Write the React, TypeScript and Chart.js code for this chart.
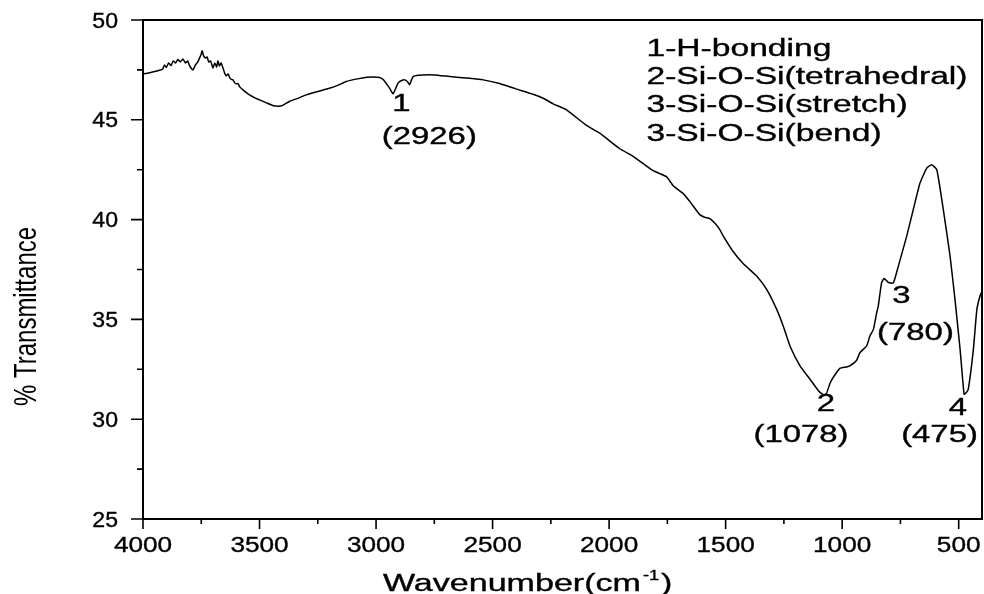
import React, { useEffect, useRef } from "react";
import { Chart, registerables } from "chart.js";

Chart.register(...registerables);

const wavenumbers = [
  4000, 3975, 3950, 3930, 3915, 3908, 3900, 3890, 3880, 3870, 3860, 3850, 3840, 3829, 3818, 3808, 3800, 3786,
  3775, 3765, 3757, 3750, 3746, 3740, 3732, 3725, 3718, 3710, 3700, 3692, 3684, 3679, 3672, 3665, 3657, 3650,
  3643, 3635, 3625, 3614, 3606, 3600, 3592, 3585, 3571, 3555, 3543, 3520, 3500, 3470, 3443, 3420, 3405, 3390,
  3370, 3330, 3300, 3250, 3200, 3160, 3128, 3080, 3040, 3010, 2985, 2968, 2955, 2940, 2927, 2915, 2905, 2890,
  2877, 2866, 2856, 2848, 2840, 2820, 2800, 2750, 2684, 2600, 2540, 2470, 2400, 2326, 2283, 2240, 2183, 2097,
  2040, 1954, 1897, 1811, 1754, 1725, 1682, 1650, 1611, 1590, 1568, 1545, 1525, 1510, 1468, 1425, 1367, 1324,
  1281, 1253, 1224, 1181, 1138, 1100, 1078, 1067, 1052, 1038, 1010, 981, 967, 938, 924, 895, 881, 866, 852, 845,
  831, 820, 810, 802, 781, 770, 759, 723, 695, 666, 637, 616, 594, 566, 537, 516, 494, 477, 470, 459, 437, 422,
  408, 400,
];

const transmittance = [
  47.3, 47.35, 47.42, 47.48, 47.55, 47.75, 47.62, 47.85, 47.72, 47.95, 47.85, 48.02, 47.9, 48.05, 47.85, 47.95, 47.7, 47.5,
  47.75, 47.9, 48.1, 48.3, 48.45, 48.2, 48.1, 48.15, 47.9, 47.95, 47.6, 47.85, 47.65, 47.95, 47.7, 47.85, 47.6, 47.35,
  47.2, 47.3, 47.05, 47.0, 46.85, 46.8, 46.82, 46.65, 46.5, 46.35, 46.25, 46.1, 46.0, 45.85, 45.72, 45.68, 45.7, 45.8,
  45.93, 46.1, 46.25, 46.42, 46.58, 46.75, 46.92, 47.05, 47.13, 47.15, 47.12, 47.0, 46.8, 46.55, 46.3, 46.6, 46.85, 46.97,
  47.0, 46.92, 46.75, 47.0, 47.17, 47.23, 47.25, 47.25, 47.17, 47.08, 47.0, 46.82, 46.55, 46.28, 46.08, 45.8, 45.5, 44.72,
  44.33, 43.55, 43.17, 42.45, 42.15, 41.7, 41.3, 40.85, 40.25, 40.12, 40.05, 39.8, 39.5, 39.17, 38.4, 37.8, 37.17, 36.5,
  35.5, 34.67, 33.67, 32.67, 32.0, 31.4, 31.2, 31.3, 31.8, 32.1, 32.55, 32.62, 32.67, 32.95, 33.33, 33.67, 34.17, 34.5, 35.33, 35.67,
  36.83, 37.05, 36.95, 36.85, 36.82, 37.2, 37.67, 39.17, 40.5, 41.83, 42.58, 42.75, 42.5, 40.5, 38.17, 36.0, 33.5, 31.25, 31.3, 31.5, 33.5, 35.5,
  36.2, 36.4,
];

const xTickValues = [4000, 3500, 3000, 2500, 2000, 1500, 1000, 500];
const yTickValues = [25, 30, 35, 40, 45, 50];

const peakNumbers = ["1", "2", "3", "4"];
const peakWavenumbers = [2926, 1078, 780, 475];

const legendLines = [
  "1-H-bonding",
  "2-Si-O-Si(tetrahedral)",
  "3-Si-O-Si(stretch)",
  "3-Si-O-Si(bend)",
];

const xTitle = "Wavenumber(cm";
const xTitleSup = "-1";
const yTitle = "% Transmittance";

const FONT = '"Liberation Sans", Arial, sans-serif';

// pixel offsets for the peak labels: [dxNumber, yNumberBaseline, dxValue, yValueBaseline]
const peakLabelLayout = [
  [8, 111, 36, 144],
  [2, 411, -23, 442],
  [8, 303, 22, 340],
  [-6.5, 415, -25, 442],
];

function drawText(
  ctx: CanvasRenderingContext2D,
  s: string,
  x: number,
  y: number,
  size: number,
  sx: number,
  align: CanvasTextAlign
) {
  ctx.save();
  ctx.font = `${size}px ${FONT}`;
  ctx.textBaseline = "alphabetic";
  ctx.textAlign = align;
  ctx.fillStyle = "#000";
  ctx.strokeStyle = "#000";
  ctx.lineWidth = 0.35;
  ctx.translate(x, y);
  ctx.scale(sx, 1);
  ctx.fillText(s, 0, 0);
  ctx.strokeText(s, 0, 0);
  ctx.restore();
}

const framePlugin = {
  id: "frameAndText",
  afterDraw(chart: any) {
    const ctx: CanvasRenderingContext2D = chart.ctx;
    const xs = chart.scales.x;
    const ys = chart.scales.y;
    const { left, right, top, bottom } = chart.chartArea;
    ctx.save();
    ctx.strokeStyle = "#000";
    ctx.lineWidth = 2;
    ctx.beginPath();
    ctx.moveTo(left, top);
    ctx.lineTo(right, top);
    ctx.lineTo(right, bottom);
    ctx.lineTo(left, bottom);
    ctx.closePath();
    ctx.stroke();

    // ticks
    ctx.lineWidth = 1.6;
    ctx.beginPath();
    xTickValues.forEach((v, i) => {
      const px = xs.getPixelForValue(v);
      ctx.moveTo(px, bottom);
      ctx.lineTo(px, bottom + 10);
      if (i < xTickValues.length - 1) {
        const m = xs.getPixelForValue((v + xTickValues[i + 1]) / 2);
        ctx.moveTo(m, bottom);
        ctx.lineTo(m, bottom + 5);
      }
    });
    yTickValues.forEach((v, i) => {
      const py = ys.getPixelForValue(v);
      ctx.moveTo(left, py);
      ctx.lineTo(left - 12, py);
      if (i < yTickValues.length - 1) {
        const m = ys.getPixelForValue((v + yTickValues[i + 1]) / 2);
        ctx.moveTo(left, m);
        ctx.lineTo(left - 6, m);
      }
    });
    ctx.stroke();
    ctx.restore();

    // tick labels
    xTickValues.forEach((v) => {
      drawText(ctx, String(v), xs.getPixelForValue(v), bottom + 33, 22, 1.19, "center");
    });
    yTickValues.forEach((v) => {
      drawText(ctx, String(v), left - 25, ys.getPixelForValue(v) + 7.5, 22, 1.05, "right");
    });

    // axis titles
    ctx.save();
    ctx.font = `23px ${FONT}`;
    const sx = 1.48;
    const startX = 383;
    const baseY = 591;
    const w1 = ctx.measureText(xTitle).width * sx;
    ctx.restore();
    drawText(ctx, xTitle, startX, baseY, 23, sx, "left");
    ctx.save();
    ctx.font = `14px ${FONT}`;
    const w2 = ctx.measureText(xTitleSup).width * 1.3;
    ctx.restore();
    drawText(ctx, xTitleSup, startX + w1 + 2, baseY - 11, 14, 1.3, "left");
    drawText(ctx, ")", startX + w1 + w2 + 4, baseY, 23, sx, "left");

    ctx.save();
    ctx.font = `24px ${FONT}`;
    ctx.fillStyle = "#000";
    ctx.textAlign = "center";
    ctx.textBaseline = "alphabetic";
    ctx.translate(35.5, 316.5);
    ctx.rotate(-Math.PI / 2);
    ctx.scale(1, 1.3);
    ctx.fillText(yTitle, 0, 0);
    ctx.restore();

    // peak labels
    peakNumbers.forEach((n, i) => {
      const px = xs.getPixelForValue(peakWavenumbers[i]);
      const [dx1, y1, dx2, y2] = peakLabelLayout[i];
      drawText(ctx, n, px + dx1, y1, 23, 1.43, "center");
      drawText(ctx, `(${peakWavenumbers[i]})`, px + dx2, y2, 23, 1.43, "center");
    });

    // legend text block
    legendLines.forEach((s, i) => {
      drawText(ctx, s, 646.5, 56 + i * 28.2, 23, 1.46, "left");
    });
  },
};

export default function App() {
  const ref = useRef<HTMLCanvasElement | null>(null);
  useEffect(() => {
    if (!ref.current) return;
    const chart = new Chart(ref.current, {
      type: "line",
      data: {
        datasets: [
          {
            data: wavenumbers.map((w, i) => ({ x: w, y: transmittance[i] })),
            borderColor: "#000",
            borderWidth: 1.5,
            pointRadius: 0,
            tension: 0.15,
            fill: false,
          },
        ],
      },
      options: {
        animation: false,
        responsive: false,
        events: [],
        layout: { padding: { top: 20, right: 2, left: 0, bottom: 0 } },
        plugins: { legend: { display: false }, tooltip: { enabled: false }, title: { display: false } },
        scales: {
          x: {
            type: "linear",
            reverse: true,
            min: 400,
            max: 4000,
            grid: { display: false, drawTicks: false },
            border: { display: false },
            ticks: { display: false },
            afterFit: (s: any) => {
              s.height = 75;
            },
          },
          y: {
            type: "linear",
            min: 25,
            max: 50,
            grid: { display: false, drawTicks: false },
            border: { display: false },
            ticks: { display: false },
            afterFit: (s: any) => {
              s.width = 143;
            },
          },
        },
      },
      plugins: [framePlugin],
    });
    return () => chart.destroy();
  }, []);
  return (
    <div style={{ position: "fixed", left: 0, top: 0, width: 984, height: 594, background: "#fff" }}>
      <canvas ref={ref} width={984} height={594} style={{ display: "block" }} />
    </div>
  );
}
